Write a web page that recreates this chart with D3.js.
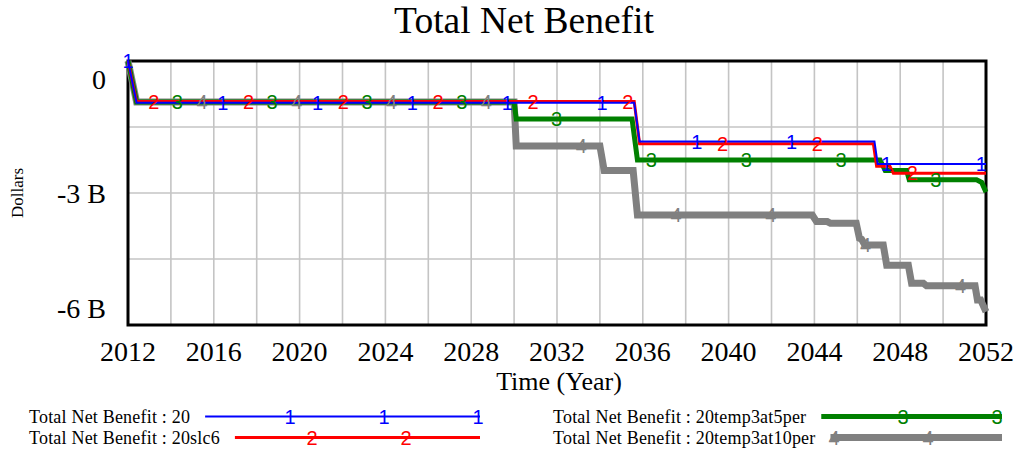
<!DOCTYPE html>
<html><head><meta charset="utf-8">
<script src="https://cdn.jsdelivr.net/npm/d3@7"></script>
<style>
html,body{margin:0;padding:0;background:#fff;}
svg{display:block;font-family:"Liberation Serif","Times New Roman",serif;}
</style></head><body>
<svg id="chart" width="1024" height="457"></svg>
<script>
// ── Total Net Benefit runs, [year, billions of dollars] ──
const RUN_20 = [[2012,0],[2012.4,-0.95],[2035.6,-0.95],[2035.85,-1.83],[2046.8,-1.83],[2046.95,-2.34],[2052,-2.34]];
const RUN_20SLC6 = [[2012,0],[2012.4,-0.92],[2035.6,-0.92],[2035.85,-1.88],[2046.75,-1.88],[2046.9,-2.39],
  [2047.52,-2.39],[2047.68,-2.55],[2052,-2.55]];
const RUN_5PER = [[2012,0],[2012.4,-0.93],[2030.0,-0.93],[2030.1,-1.32],[2035.5,-1.32],[2035.75,-2.25],
  [2047.06,-2.25],[2047.3,-2.49],[2048.3,-2.49],[2048.42,-2.70],[2051.56,-2.70],[2051.8,-2.76],[2052,-2.98]];
const RUN_10PER = [[2012,0],[2012.4,-0.93],[2030.0,-0.93],[2030.1,-1.93],[2034.0,-1.93],[2034.2,-2.49],
  [2035.55,-2.49],[2035.75,-3.5],[2043.9,-3.5],[2044.1,-3.65],[2044.6,-3.65],[2044.75,-3.69],
  [2045.95,-3.69],[2046.1,-4.03],[2046.2,-4.05],[2046.35,-4.18],[2047.21,-4.18],[2047.37,-4.64],
  [2048.38,-4.64],[2048.53,-5.05],[2049.08,-5.05],[2049.23,-5.11],[2051.49,-5.11],[2051.6,-5.43],
  [2051.75,-5.43],[2052,-5.70]];
const RUN_NAMES = ["20","20slc6","20temp3at5per","20temp3at10per"];
const X_TICKS = d3.range(2012, 2053, 4);
const X_GRID = d3.range(2014, 2051, 2);
const Y_TICKS = [0,-3,-6];
const Y_TICK_LABELS = ["0","-3 B","-6 B"];
const Y_GRID = [-1.5,-3,-4.5];

// ── look ──
const STY = [
  {col:"#0000ff", w:2, ch:"1", m0:2012.0,  leg:[2,96,190]},
  {col:"#ff0000", w:3, ch:"2", m0:2013.2,  leg:[74,168]},
  {col:"#008000", w:5, ch:"3", m0:2014.3,  leg:[5,99]},
  {col:"#808080", w:7, ch:"4", m0:2015.45, leg:[74,168]},
];
const MARK_EVERY = 4.42;
const runs = [RUN_20, RUN_20SLC6, RUN_5PER, RUN_10PER];

const svg = d3.select("#chart");
const L=128, T=61, R=986, B=325;
const x = d3.scaleLinear().domain([2012,2052]).range([L,R]);
const y = d3.scaleLinear().domain([-6,0]).range([B,T]);

function valAt(d,t){
  for(let i=0;i<d.length-1;i++){
    const a=d[i],b=d[i+1];
    if(t>=a[0]&&t<=b[0]) return a[1]+(b[1]-a[1])*(t-a[0])/(b[0]-a[0]);
  }
  return d[d.length-1][1];
}

// title
svg.append("text").attr("x",524).attr("y",33).attr("text-anchor","middle")
  .attr("font-size",37.5).text("Total Net Benefit");

// grid
const g = svg.append("g");
g.selectAll(".vg").data(X_GRID).join("line")
  .attr("x1",d=>x(d)).attr("x2",d=>x(d)).attr("y1",T).attr("y2",B)
  .attr("stroke","#c4c4c4").attr("stroke-width",1.6);
g.selectAll(".hg").data(Y_GRID).join("line")
  .attr("x1",L).attr("x2",R).attr("y1",d=>y(d)).attr("y2",d=>y(d))
  .attr("stroke","#c4c4c4").attr("stroke-width",1.6);

// frame
svg.append("rect").attr("x",L).attr("y",T).attr("width",R-L).attr("height",B-T)
  .attr("fill","none").attr("stroke","#000").attr("stroke-width",3);

// tick labels
svg.append("g").selectAll("text").data(X_TICKS).join("text")
  .attr("x",d=>x(d)).attr("y",361).attr("text-anchor","middle").attr("font-size",28).text(d=>d);
svg.append("g").selectAll("text").data(Y_TICKS).join("text")
  .attr("x",106).attr("y",d=>y(d)).attr("text-anchor","end").attr("font-size",28)
  .attr("dy",(d,i)=>i===0?"1em":(i===Y_TICKS.length-1?"-0.25em":"0.36em"))
  .text((d,i)=>Y_TICK_LABELS[i]);

svg.append("text").attr("x",559).attr("y",390).attr("text-anchor","middle")
  .attr("font-size",26).text("Time (Year)");
svg.append("text").attr("transform","translate(23,193) rotate(-90)").attr("text-anchor","middle")
  .attr("font-size",17).text("Dollars");

// lines, widest drawn first
const line = d3.line().x(d=>x(d[0])).y(d=>y(d[1]));
const order = [3,2,1,0];
order.forEach(i=>{
  svg.append("path").attr("d",line(runs[i])).attr("fill","none")
    .attr("stroke",STY[i].col).attr("stroke-width",STY[i].w).attr("stroke-linejoin","miter");
});
order.forEach(i=>{
  const ts=[];for(let t=STY[i].m0;t<=2052;t+=MARK_EVERY)ts.push(t);
  svg.append("g").selectAll("text").data(ts).join("text")
    .attr("x",t=>x(t)).attr("y",t=>y(valAt(runs[i],t))).attr("dy","0.36em")
    .attr("text-anchor","middle").attr("font-family","Liberation Sans, Arial, sans-serif")
    .attr("font-size",20).attr("fill",STY[i].col).text(STY[i].ch);
});

// legend
const LEG = [{x:29,y:423,end:480},{x:29,y:444,end:480},{x:553,y:423,end:1002},{x:553,y:444,end:1002}];
RUN_NAMES.forEach((nm,i)=>{
  const p=LEG[i];
  const tx=svg.append("text").attr("x",p.x).attr("y",p.y).attr("font-size",18)
    .attr("letter-spacing",0.2).text("Total Net Benefit : "+nm);
  const x0=p.x+tx.node().getComputedTextLength()+15, ly=p.y-6.5;
  svg.append("line").attr("x1",x0).attr("x2",p.end).attr("y1",ly).attr("y2",ly)
    .attr("stroke",STY[i].col).attr("stroke-width",STY[i].w);
  svg.append("g").selectAll("text").data(STY[i].leg).join("text")
    .attr("x",o=>p.end-o).attr("y",ly).attr("dy","0.36em").attr("text-anchor","middle")
    .attr("font-family","Liberation Sans, Arial, sans-serif").attr("font-size",20)
    .attr("fill",STY[i].col).text(STY[i].ch);
});
</script>
</body></html>
